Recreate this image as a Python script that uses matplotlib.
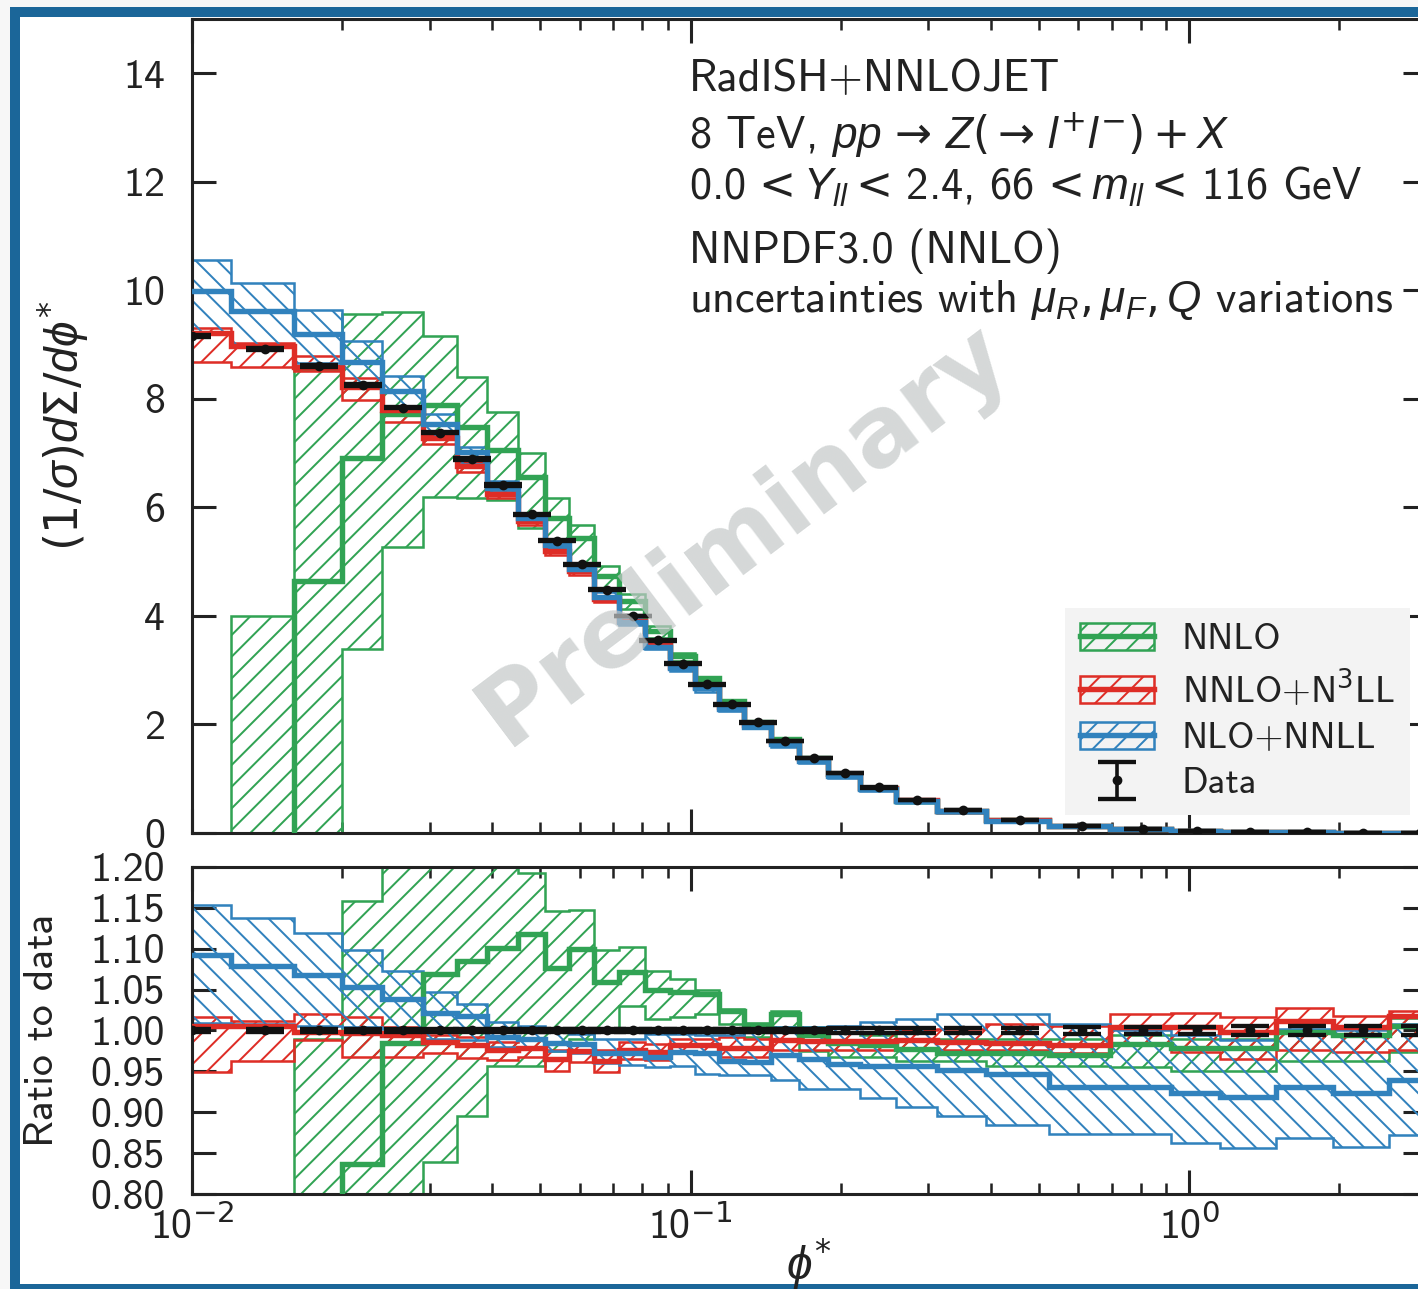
#!/usr/bin/env python3
"""Normalised phi* spectrum at 8 TeV compared with RadISH+NNLOJET predictions."""

import math

import matplotlib

matplotlib.use("Agg")
import matplotlib.pyplot as plt
import numpy as np
from matplotlib.lines import Line2D
from matplotlib.patches import Patch, Rectangle
from matplotlib.ticker import FixedLocator, FormatStrFormatter, FuncFormatter, NullFormatter

DPI = 130
FIG_W, FIG_H = 1418, 1289

GREEN = "#31a354"
RED = "#de2d26"
BLUE = "#3182bd"
INK = "#222222"
FRAME = "#1b6699"
TICK_SIZE = 23.2
INFO_SIZE = 24.5
LEGEND_SIZE = 20.5

# phi* bin edges of the measurement
PHI_EDGES = [0.008, 0.012, 0.016, 0.020, 0.024, 0.029, 0.034, 0.039, 0.045, 0.051,
             0.057, 0.064, 0.072, 0.081, 0.091, 0.102, 0.114, 0.128, 0.145, 0.165,
             0.189, 0.219, 0.258, 0.312, 0.391, 0.524, 0.695, 0.918, 1.153, 1.496,
             1.947, 2.522, 3.277]

# measured (1/sigma) dSigma/dphi* per bin and its relative uncertainty
DATA = [9.15, 8.92, 8.61, 8.25, 7.84, 7.38, 6.89, 6.41, 5.87, 5.39,
        4.95, 4.48, 4.00, 3.55, 3.12, 2.74, 2.37, 2.04, 1.69, 1.38,
        1.10, 0.84, 0.61, 0.42, 0.24, 0.13, 0.07, 0.04, 0.02, 0.012,
        0.007, 0.004]
DATA_REL_ERR = [0.002, 0.002, 0.002, 0.002, 0.002, 0.002, 0.002, 0.002, 0.002, 0.002,
                0.002, 0.002, 0.002, 0.002, 0.002, 0.002, 0.002, 0.002, 0.002, 0.002,
                0.003, 0.003, 0.003, 0.003, 0.003, 0.004, 0.004, 0.004, 0.005, 0.005,
                0.006, 0.006]

# NNLO / data (starts at the second bin, 0.012 < phi* < 0.016)
NNLO_MID = [-0.30, 0.54, 0.837, 0.985, 1.069, 1.085, 1.101, 1.118, 1.077, 1.100,
            1.059, 1.071, 1.049, 1.047, 1.045, 1.024, 1.007, 1.020, 0.995, 0.985,
            0.982, 0.977, 0.972, 0.972, 0.970, 0.983, 0.978, 0.978, 0.998, 0.994,
            1.006]
NNLO_LO = [-0.60, -0.30, 0.410, 0.673, 0.839, 0.896, 0.957, 0.957, 0.975, 0.990,
           1.000, 1.030, 1.014, 1.016, 1.020, 1.008, 0.992, 1.004, 0.975, 0.968,
           0.968, 0.963, 0.963, 0.957, 0.957, 0.955, 0.951, 0.951, 0.963, 0.963,
           0.974]
NNLO_HI = [0.448, 0.990, 1.159, 1.225, 1.240, 1.220, 1.210, 1.193, 1.146, 1.147,
           1.098, 1.102, 1.073, 1.063, 1.050, 1.026, 1.009, 1.024, 1.004, 0.998,
           0.995, 0.990, 0.990, 0.990, 0.990, 0.995, 0.990, 0.990, 1.010, 1.005,
           1.015]

# NNLO+N3LL / data
N3LL_MID = [1.006, 1.006, 0.998, 0.997, 0.994, 0.986, 0.982, 0.976, 0.978, 0.965,
            0.975, 0.963, 0.976, 0.974, 0.982, 0.982, 0.978, 0.978, 0.988, 0.987,
            0.987, 0.987, 0.988, 0.986, 0.985, 0.982, 1.004, 1.004, 0.998, 1.012,
            1.004, 1.018]
N3LL_LO = [0.949, 0.963, 0.988, 0.967, 0.967, 0.972, 0.966, 0.964, 0.968, 0.950,
           0.962, 0.949, 0.965, 0.964, 0.972, 0.972, 0.968, 0.968, 0.976, 0.976,
           0.976, 0.976, 0.977, 0.976, 0.976, 0.972, 0.984, 0.974, 0.965, 0.976,
           0.974, 0.976]
N3LL_HI = [1.017, 1.012, 1.020, 1.016, 1.004, 0.995, 0.992, 0.986, 0.988, 0.976,
           0.984, 0.976, 0.986, 0.984, 0.990, 0.990, 0.992, 0.990, 0.998, 0.998,
           0.998, 0.998, 1.000, 1.002, 1.008, 1.005, 1.020, 1.022, 1.017, 1.028,
           1.018, 1.024]

# NLO+NNLL / data
NNLL_MID = [1.092, 1.079, 1.068, 1.053, 1.039, 1.022, 1.018, 0.992, 0.989, 0.985,
            0.984, 0.972, 0.972, 0.967, 0.974, 0.972, 0.963, 0.961, 0.970, 0.965,
            0.959, 0.957, 0.957, 0.952, 0.947, 0.931, 0.931, 0.924, 0.919, 0.931,
            0.923, 0.939]
NNLL_LO = [1.009, 1.008, 1.005, 1.004, 1.002, 0.990, 0.988, 0.980, 0.978, 0.975,
           0.972, 0.960, 0.958, 0.955, 0.957, 0.947, 0.945, 0.945, 0.939, 0.929,
           0.929, 0.917, 0.906, 0.896, 0.884, 0.874, 0.874, 0.862, 0.856, 0.868,
           0.858, 0.872]
NNLL_HI = [1.154, 1.137, 1.119, 1.099, 1.073, 1.047, 1.032, 1.011, 1.005, 1.000,
           0.996, 0.990, 0.990, 0.996, 0.996, 0.995, 0.995, 0.998, 1.004, 1.004,
           1.006, 1.010, 1.014, 1.020, 1.020, 1.008, 1.000, 0.994, 0.988, 1.002,
           1.000, 1.008]

SPECTRUM_TICKS = [0, 2, 4, 6, 8, 10, 12, 14]
RATIO_TICKS = [0.80, 0.85, 0.90, 0.95, 1.00, 1.05, 1.10, 1.15, 1.20]

INFO_LINES = [
    "RadISH+NNLOJET",
    r"8 TeV, $pp\,\rightarrow\,Z(\rightarrow\,l^{+}l^{-})+X$",
    r"0.0$\,<Y_{ll}<\,$2.4, 66$\,<m_{ll}<\,$116 GeV",
    "NNPDF3.0 (NNLO)",
    r"uncertainties with $\mu_R, \mu_F, Q$ variations",
]
INFO_BASELINES = [0.912, 0.8405, 0.778, 0.7006, 0.6405]


def setup_style() -> None:
    plt.rcParams.update({
        "font.family": ["cmss10", "DejaVu Sans"],
        "font.size": TICK_SIZE,
        "mathtext.fontset": "custom",
        "mathtext.rm": "DejaVu Sans",
        "mathtext.sf": "DejaVu Sans",
        "mathtext.it": "Liberation Sans:italic",
        "mathtext.bf": "DejaVu Sans:bold",
        "axes.edgecolor": INK,
        "axes.linewidth": 1.7,
        "axes.labelcolor": INK,
        "text.color": INK,
        "xtick.color": INK,
        "ytick.color": INK,
        "hatch.linewidth": 1.1,
    })


def decade_label(value, pos) -> str:
    exponent = round(math.log10(value))
    if abs(math.log10(value) - exponent) > 1e-6:
        return ""
    return "10$^{%d}$" % exponent


def style_axis(ax) -> None:
    ax.tick_params(which="both", direction="in", top=True, right=True)
    ax.tick_params(which="major", length=13.3, width=1.7, labelsize=TICK_SIZE)
    ax.tick_params(which="minor", length=6.0, width=1.4)
    ax.tick_params(axis="y", pad=15)
    ax.tick_params(axis="x", pad=6)


def draw_prediction(ax, edges, mid, lo, hi, scale, color, hatch) -> None:
    ax.stairs(np.asarray(hi) * scale, edges, baseline=np.asarray(lo) * scale,
              fill=True, facecolor="none", edgecolor=color, hatch=hatch,
              linewidth=1.4, zorder=2)
    ax.stairs(np.asarray(mid) * scale, edges, baseline=None, color=color,
              linewidth=3.0, zorder=3)


def draw_data(ax, centers, values, errors):
    return ax.errorbar(centers, values, yerr=errors, fmt="o", color="#111111",
                       markersize=4.4, capsize=10.5, capthick=2.4, elinewidth=2.0,
                       zorder=5)


def main() -> None:
    setup_style()
    fig = plt.figure(figsize=(FIG_W / DPI, FIG_H / DPI), dpi=DPI, facecolor="#f7f7f7")
    fig.add_artist(Rectangle((0.00705, 0.0), 1.0, 0.99457, transform=fig.transFigure,
                             facecolor=FRAME, edgecolor="none", zorder=-3))
    fig.add_artist(Rectangle((0.0141, 0.00388), 1.0, 0.98292, transform=fig.transFigure,
                             facecolor="white", edgecolor="none", zorder=-2))

    ax = fig.add_axes([0.1354, 0.35376, 0.8709, 0.6315])
    ax_r = fig.add_axes([0.1354, 0.0737, 0.8709, 0.25369], sharex=ax)

    edges = np.asarray(PHI_EDGES)
    centers = 0.5 * (edges[:-1] + edges[1:])
    data = np.asarray(DATA)
    rel_err = np.asarray(DATA_REL_ERR)

    predictions = [
        (edges[1:], NNLO_MID, NNLO_LO, NNLO_HI, data[1:], GREEN, "//"),
        (edges, N3LL_MID, N3LL_LO, N3LL_HI, data, RED, "//"),
        (edges, NNLL_MID, NNLL_LO, NNLL_HI, data, BLUE, "\\\\"),
    ]
    for pred_edges, mid, lo, hi, scale, color, hatch in predictions:
        draw_prediction(ax, pred_edges, mid, lo, hi, scale, color, hatch)
        draw_prediction(ax_r, pred_edges, mid, lo, hi, 1.0, color, hatch)

    data_marks = draw_data(ax, centers, data, data * rel_err)
    draw_data(ax_r, centers, np.ones_like(data), rel_err)

    # spectrum panel
    ax.set_xscale("log")
    ax.set_xlim(0.01, 3.0)
    ax.set_ylim(0, 15)
    ax.yaxis.set_major_locator(FixedLocator(SPECTRUM_TICKS))
    ax.yaxis.set_major_formatter(FormatStrFormatter("%d"))
    style_axis(ax)
    ax.tick_params(axis="x", labelbottom=False)
    ax.set_ylabel(r"$(1/\sigma)d\Sigma/d\phi^{*}$", fontsize=25.5)
    ax.yaxis.set_label_coords(-0.082, 0.5)

    for text, y in zip(INFO_LINES, INFO_BASELINES):
        ax.text(0.4024, y, text, transform=ax.transAxes, ha="left", va="baseline",
                fontsize=INFO_SIZE)

    ax.text(0.447, 0.366, "Preliminary", transform=ax.transAxes, rotation=37,
            rotation_mode="anchor", ha="center", va="center", fontsize=54,
            fontweight="bold", family="DejaVu Sans", color="#c4c8c8", alpha=0.7,
            zorder=10)

    handles = [
        (Patch(facecolor="none", edgecolor=GREEN, hatch="//", linewidth=1.4),
         Line2D([], [], color=GREEN, linewidth=3.0)),
        (Patch(facecolor="none", edgecolor=RED, hatch="//", linewidth=1.4),
         Line2D([], [], color=RED, linewidth=3.0)),
        (Patch(facecolor="none", edgecolor=BLUE, hatch="//", linewidth=1.4),
         Line2D([], [], color=BLUE, linewidth=3.0)),
        data_marks,
    ]
    labels = ["NNLO", r"NNLO+N$^{3}$LL", "NLO+NNLL", "Data"]
    leg = ax.legend(handles, labels, loc="lower right", bbox_to_anchor=(0.986, 0.022),
                    borderaxespad=0.0, fontsize=LEGEND_SIZE, frameon=True, fancybox=False,
                    facecolor="#f3f3f3", edgecolor="none", framealpha=1.0,
                    borderpad=0.4, handlelength=2.0, handleheight=0.75,
                    handletextpad=0.75, labelspacing=0.32)
    leg.set_zorder(6)

    # ratio panel
    ax_r.set_ylim(0.8, 1.2)
    ax_r.yaxis.set_major_locator(FixedLocator(RATIO_TICKS))
    ax_r.yaxis.set_major_formatter(FormatStrFormatter("%.2f"))
    ax_r.xaxis.set_major_formatter(FuncFormatter(decade_label))
    ax_r.xaxis.set_minor_formatter(NullFormatter())
    style_axis(ax_r)
    ax_r.set_ylabel("Ratio to data", fontsize=TICK_SIZE)
    ax_r.yaxis.set_label_coords(-0.106, 0.5)
    ax_r.set_xlabel(r"$\phi^{*}$", fontsize=25.5, labelpad=-6)

    fig.savefig("out.png", dpi=DPI, facecolor=fig.get_facecolor())
    plt.close(fig)


if __name__ == "__main__":
    main()
